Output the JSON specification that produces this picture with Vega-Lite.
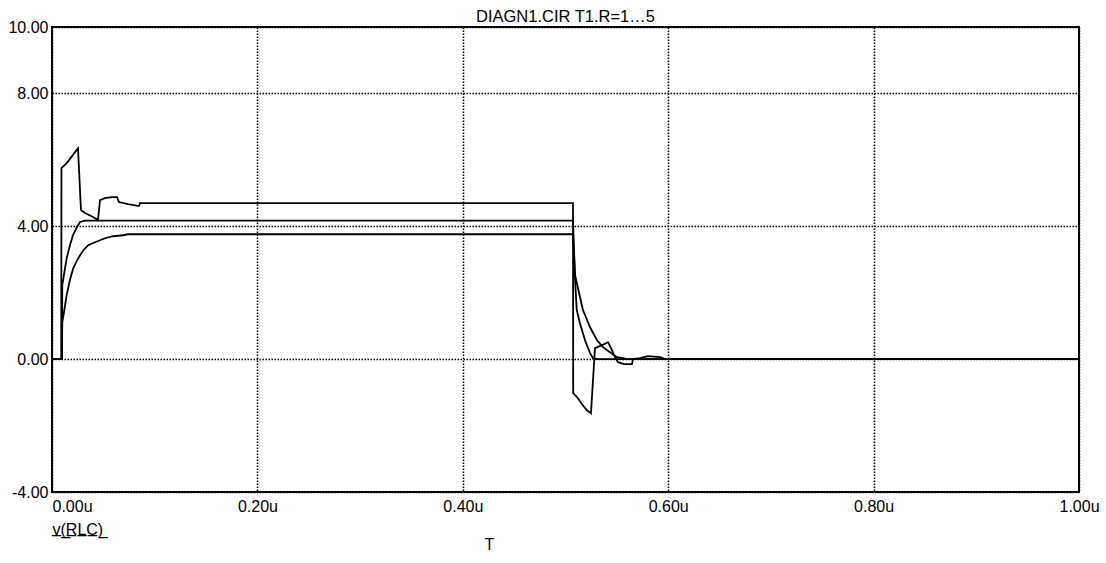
{
  "$schema": "https://vega.github.io/schema/vega-lite/v6.json",
  "width": 1027,
  "height": 465,
  "autosize": {"type": "none"},
  "padding": {"left": 52, "top": 27, "right": 27, "bottom": 71},
  "background": "white",
  "config": {"view": {"stroke": "black", "strokeWidth": 2}, "font": "Liberation Sans"},
  "title": {"text": "DIAGN1.CIR T1.R=1…5", "fontSize": 16.5, "fontWeight": "normal", "font": "Liberation Sans", "color": "black", "baseline": "bottom", "offset": 4, "anchor": "middle", "frame": "group", "dy": 26},
  "data": {"values": [
    {"s": "R1", "i": 0, "t": 0, "v": 0},
    {"s": "R1", "i": 1, "t": 0.0090, "v": 0},
    {"s": "R1", "i": 2, "t": 0.0092, "v": 5.75},
    {"s": "R1", "i": 3, "t": 0.0133, "v": 5.87},
    {"s": "R1", "i": 4, "t": 0.0153, "v": 5.94},
    {"s": "R1", "i": 5, "t": 0.0253, "v": 6.35},
    {"s": "R1", "i": 6, "t": 0.0282, "v": 4.49},
    {"s": "R1", "i": 7, "t": 0.0321, "v": 4.40},
    {"s": "R1", "i": 8, "t": 0.0399, "v": 4.28},
    {"s": "R1", "i": 9, "t": 0.0448, "v": 4.19},
    {"s": "R1", "i": 10, "t": 0.0467, "v": 4.79},
    {"s": "R1", "i": 11, "t": 0.0516, "v": 4.85},
    {"s": "R1", "i": 12, "t": 0.0584, "v": 4.88},
    {"s": "R1", "i": 13, "t": 0.0633, "v": 4.88},
    {"s": "R1", "i": 14, "t": 0.0652, "v": 4.73},
    {"s": "R1", "i": 15, "t": 0.0740, "v": 4.67},
    {"s": "R1", "i": 16, "t": 0.0847, "v": 4.61},
    {"s": "R1", "i": 17, "t": 0.0857, "v": 4.70},
    {"s": "R1", "i": 18, "t": 0.5073, "v": 4.70},
    {"s": "R1", "i": 19, "t": 0.5075, "v": -1.02},
    {"s": "R1", "i": 20, "t": 0.5112, "v": -1.14},
    {"s": "R1", "i": 21, "t": 0.5161, "v": -1.36},
    {"s": "R1", "i": 22, "t": 0.5209, "v": -1.54},
    {"s": "R1", "i": 23, "t": 0.5248, "v": -1.63},
    {"s": "R1", "i": 24, "t": 0.5287, "v": 0.33},
    {"s": "R1", "i": 25, "t": 0.5355, "v": 0.42},
    {"s": "R1", "i": 26, "t": 0.5414, "v": 0.51},
    {"s": "R1", "i": 27, "t": 0.5443, "v": 0.33},
    {"s": "R1", "i": 28, "t": 0.5482, "v": 0.06},
    {"s": "R1", "i": 29, "t": 0.5511, "v": -0.09},
    {"s": "R1", "i": 30, "t": 0.5570, "v": -0.15},
    {"s": "R1", "i": 31, "t": 0.5648, "v": -0.15},
    {"s": "R1", "i": 32, "t": 0.5657, "v": 0},
    {"s": "R1", "i": 33, "t": 0.5725, "v": 0.03},
    {"s": "R1", "i": 34, "t": 0.5803, "v": 0.09},
    {"s": "R1", "i": 35, "t": 0.5920, "v": 0.06},
    {"s": "R1", "i": 36, "t": 0.5970, "v": 0},
    {"s": "R1", "i": 37, "t": 1.0, "v": 0},
    {"s": "R2", "i": 0, "t": 0, "v": 0},
    {"s": "R2", "i": 1, "t": 0.0097, "v": 0},
    {"s": "R2", "i": 2, "t": 0.0100, "v": 2.23},
    {"s": "R2", "i": 3, "t": 0.0143, "v": 3.04},
    {"s": "R2", "i": 4, "t": 0.0175, "v": 3.43},
    {"s": "R2", "i": 5, "t": 0.0204, "v": 3.73},
    {"s": "R2", "i": 6, "t": 0.0241, "v": 3.97},
    {"s": "R2", "i": 7, "t": 0.0273, "v": 4.13},
    {"s": "R2", "i": 8, "t": 0.0321, "v": 4.17},
    {"s": "R2", "i": 9, "t": 0.5073, "v": 4.17},
    {"s": "R2", "i": 10, "t": 0.5092, "v": 2.47},
    {"s": "R2", "i": 11, "t": 0.5109, "v": 1.48},
    {"s": "R2", "i": 12, "t": 0.5141, "v": 1.08},
    {"s": "R2", "i": 13, "t": 0.5190, "v": 0.57},
    {"s": "R2", "i": 14, "t": 0.5239, "v": 0.18},
    {"s": "R2", "i": 15, "t": 0.5268, "v": 0.03},
    {"s": "R2", "i": 16, "t": 0.5307, "v": 0},
    {"s": "R2", "i": 17, "t": 1.0, "v": 0},
    {"s": "R3", "i": 0, "t": 0, "v": 0},
    {"s": "R3", "i": 1, "t": 0.0097, "v": 0},
    {"s": "R3", "i": 2, "t": 0.0100, "v": 1.11},
    {"s": "R3", "i": 3, "t": 0.0117, "v": 1.42},
    {"s": "R3", "i": 4, "t": 0.0143, "v": 1.93},
    {"s": "R3", "i": 5, "t": 0.0175, "v": 2.39},
    {"s": "R3", "i": 6, "t": 0.0207, "v": 2.74},
    {"s": "R3", "i": 7, "t": 0.0256, "v": 3.04},
    {"s": "R3", "i": 8, "t": 0.0305, "v": 3.28},
    {"s": "R3", "i": 9, "t": 0.0353, "v": 3.43},
    {"s": "R3", "i": 10, "t": 0.0419, "v": 3.52},
    {"s": "R3", "i": 11, "t": 0.0516, "v": 3.64},
    {"s": "R3", "i": 12, "t": 0.0594, "v": 3.70},
    {"s": "R3", "i": 13, "t": 0.0691, "v": 3.73},
    {"s": "R3", "i": 14, "t": 0.0740, "v": 3.76},
    {"s": "R3", "i": 15, "t": 0.5073, "v": 3.76},
    {"s": "R3", "i": 16, "t": 0.5093, "v": 2.53},
    {"s": "R3", "i": 17, "t": 0.5141, "v": 1.87},
    {"s": "R3", "i": 18, "t": 0.5170, "v": 1.48},
    {"s": "R3", "i": 19, "t": 0.5239, "v": 0.96},
    {"s": "R3", "i": 20, "t": 0.5307, "v": 0.57},
    {"s": "R3", "i": 21, "t": 0.5365, "v": 0.36},
    {"s": "R3", "i": 22, "t": 0.5433, "v": 0.21},
    {"s": "R3", "i": 23, "t": 0.5502, "v": 0.06},
    {"s": "R3", "i": 24, "t": 0.5560, "v": 0.03},
    {"s": "R3", "i": 25, "t": 0.5600, "v": 0},
    {"s": "R3", "i": 26, "t": 1.0, "v": 0}
  ]},
  "mark": {"type": "line", "color": "black", "strokeWidth": 1.8, "interpolate": "linear", "clip": true},
  "encoding": {
    "x": {
      "field": "t", "type": "quantitative",
      "scale": {"domain": [0, 1], "nice": false, "zero": false},
      "axis": {
        "values": [0, 0.2, 0.4, 0.6, 0.8, 1],
        "labelExpr": "format(datum.value, '.2f') + 'u'",
        "labelAlign": {"condition": {"test": "datum.value == 0", "value": "left"}, "value": "center"},
        "labelFlush": false,
        "domain": false, "ticks": false,
        "grid": true, "gridColor": "black", "gridDash": [1.5, 1.5], "gridWidth": 1.5, "gridOpacity": 1,
        "labelFontSize": 16, "labelColor": "black", "labelFont": "Liberation Sans", "labelPadding": 6,
        "title": "T", "titleFontSize": 16, "titleFontWeight": "normal", "titleColor": "black", "titleFont": "Liberation Sans",
        "titleX": 437, "titleY": 57, "titleBaseline": "alphabetic", "titleAlign": "center", "titleAnchor": null
      }
    },
    "y": {
      "field": "v", "type": "quantitative",
      "scale": {"domain": [-4, 10], "nice": false, "zero": false},
      "axis": {
        "values": [-4, 0, 4, 8, 10],
        "labelExpr": "(datum.value < 0 ? '-' : '') + format(abs(datum.value), '.2f')",
        "domain": false, "ticks": false,
        "grid": true, "gridColor": "black", "gridDash": [1.5, 1.5], "gridWidth": 1.5, "gridOpacity": 1,
        "labelFontSize": 16, "labelColor": "black", "labelFont": "Liberation Sans", "labelPadding": 4,
        "title": "v̲(̲R̲L̲C̲)̲", "titleFontSize": 16, "titleFontWeight": "normal", "titleColor": "black", "titleFont": "Liberation Sans",
        "titleAngle": 0, "titleX": 0, "titleY": 507, "titleAlign": "left", "titleBaseline": "alphabetic", "titleAnchor": null
      }
    },
    "detail": {"field": "s"},
    "order": {"field": "i"}
  }
}
